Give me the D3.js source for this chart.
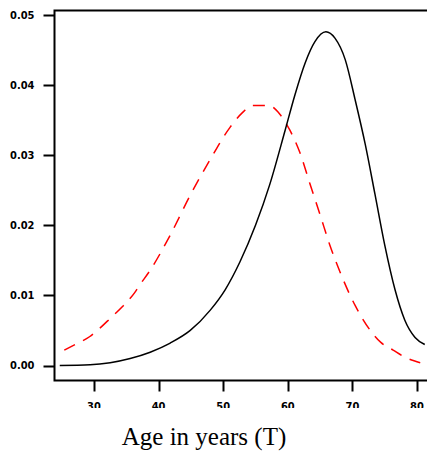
<!DOCTYPE html>
<html>
<head>
<meta charset="utf-8">
<script src="https://cdn.jsdelivr.net/npm/d3@7"></script>
<style>
  body { margin: 0; background: #fff; }
  svg { display: block; }
</style>
</head>
<body>
<div id="chart"></div>
<script>
// density curves
const blackAges = [24.7, 29.4, 32.5, 35.6, 38.7, 41.8, 44.9, 48, 50.3, 52.6, 55, 57.2, 59.6, 61.1, 62.7, 64.2, 65.9, 67.3, 68.9, 70.4, 72, 73.5, 75, 76.6, 78.1, 79.7, 81.2];
const blackDens = [0.0, 0.0001, 0.0004, 0.001, 0.0019, 0.0032, 0.005, 0.0079, 0.0108, 0.0148, 0.020, 0.0258, 0.0336, 0.0386, 0.0432, 0.0462, 0.0476, 0.0467, 0.0436, 0.038, 0.0315, 0.0244, 0.0172, 0.0108, 0.0065, 0.004, 0.003];

const redAges = [25.4, 27.3, 29.3, 31, 32.6, 34.3, 36.3, 37.1, 38.7, 41.8, 44.9, 48, 51, 52.9, 54.6, 57, 58.8, 60.3, 61.9, 63.4, 65, 66.5, 68.1, 70.4, 72.7, 74.4, 76.3, 78.1, 80.5];
const redDens = [0.0022, 0.0031, 0.0041, 0.0054, 0.0068, 0.0083, 0.0104, 0.0115, 0.0136, 0.0186, 0.0243, 0.0294, 0.0339, 0.036, 0.0371, 0.0371, 0.0358, 0.0336, 0.0303, 0.026, 0.0215, 0.0172, 0.0133, 0.0086, 0.0051, 0.0033, 0.0022, 0.0012, 0.0004];

const xTicks = [30, 40, 50, 60, 70, 80];
const yTicks = [0, 0.01, 0.02, 0.03, 0.04, 0.05];
const xTitle = "Age in years (T)";

const width = 427, height = 452;
const svg = d3.select("#chart").append("svg")
  .attr("width", width)
  .attr("height", height);

const x = d3.scaleLinear().domain([30, 80]).range([94, 417]);
const y = d3.scaleLinear().domain([0, 0.05]).range([365.5, 15]);

const boxLeft = 54.5, boxTop = 10.5, boxBottom = 380.5;

// box (right side runs off the picture)
svg.append("path")
  .attr("d", `M${width + 5},${boxTop}H${boxLeft}V${boxBottom}H${width + 5}`)
  .attr("fill", "none")
  .attr("stroke", "#000")
  .attr("stroke-width", 2);

// y axis ticks and labels
const yAxis = svg.append("g").attr("transform", `translate(${boxLeft},0)`);
yAxis.selectAll("line").data(yTicks).enter().append("line")
  .attr("x1", -11).attr("x2", 0)
  .attr("y1", d => Math.round(y(d)) + 0.5)
  .attr("y2", d => Math.round(y(d)) + 0.5)
  .attr("stroke", "#000").attr("stroke-width", 2);
yAxis.selectAll("text").data(yTicks).enter().append("text")
  .attr("x", -20)
  .attr("y", d => y(d))
  .attr("dy", "0.35em")
  .attr("text-anchor", "end")
  .style("font-family", "DejaVu Sans Condensed, DejaVu Sans")
  .style("font-size", "11px")
  .style("font-weight", "bold")
  .text(d3.format(".2f"));

// x axis ticks and (clipped) labels
svg.append("clipPath").attr("id", "xclip")
  .append("rect").attr("x", 0).attr("y", 399).attr("width", width).attr("height", 9);

const xAxis = svg.append("g");
xAxis.selectAll("line").data(xTicks).enter().append("line")
  .attr("x1", d => Math.round(x(d)) + 0.5)
  .attr("x2", d => Math.round(x(d)) + 0.5)
  .attr("y1", boxBottom).attr("y2", boxBottom + 11)
  .attr("stroke", "#000").attr("stroke-width", 2);
xAxis.append("g").attr("clip-path", "url(#xclip)")
  .selectAll("text").data(xTicks).enter().append("text")
  .attr("x", d => x(d))
  .attr("y", 410)
  .attr("text-anchor", "middle")
  .style("font-family", "DejaVu Sans Condensed, DejaVu Sans")
  .style("font-size", "11px")
  .style("font-weight", "bold")
  .text(d => d);

// curves
const line = d3.line()
  .x(d => x(d[0]))
  .y(d => y(d[1]))
  .curve(d3.curveMonotoneX);

svg.append("path")
  .datum(redAges.map((a, i) => [a, redDens[i]]))
  .attr("d", line)
  .attr("fill", "none")
  .attr("stroke", "#ff0000")
  .attr("stroke-width", 1.5)
  .attr("stroke-dasharray", "12,9");

svg.append("path")
  .datum(blackAges.map((a, i) => [a, blackDens[i]]))
  .attr("d", line)
  .attr("fill", "none")
  .attr("stroke", "#000")
  .attr("stroke-width", 1.5);

// x title
svg.append("text")
  .attr("x", 204)
  .attr("y", 445)
  .attr("text-anchor", "middle")
  .style("font-family", "Liberation Serif, Times New Roman, serif")
  .style("font-size", "25px")
  .text(xTitle);
</script>
</body>
</html>
